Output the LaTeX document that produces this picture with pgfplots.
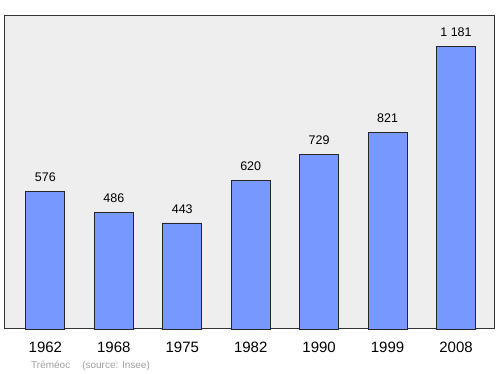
\documentclass[border=0pt]{standalone}
\usepackage{pgfplots}
\pgfplotsset{compat=1.18}
\usepackage{fontspec}
\setmainfont{Liberation Sans}
\definecolor{bg}{HTML}{EEEEEE}
\definecolor{barc}{HTML}{7799FF}
\definecolor{foot}{HTML}{A0A0A0}
\begin{document}
\begin{tikzpicture}[x=1pt,y=1pt]
\begin{axis}[
  name=ax,
  at={(0,0)}, anchor=south west,
  scale only axis,
  width=489pt, height=313pt,
  xmin=-0.59, xmax=6.555,
  ymin=0, ymax=1307,
  axis background/.style={fill=bg},
  axis line style={draw=black!80, line width=1pt},
  xtick=data,
  xticklabels={1962,1968,1975,1982,1990,1999,2008},
  ytick=\empty,
  xtick style={draw=none},
  ticklabel style={font=\fontsize{15}{17}\selectfont},
  xticklabel style={yshift=-9pt},
  /pgf/number format/assume math mode=true,
  clip=false,
]
\addplot[ybar, bar width=39pt, fill=barc, draw=black!85, line width=0.8pt,
  nodes near coords={\pgfplotspointmeta},
  nodes near coords style={font=\fontsize{12.5}{14}\selectfont, black, yshift=6pt},
  point meta=explicit symbolic]
  coordinates {(0,576)[576] (1,486)[486] (2,443)[443] (3,620)[620] (4,729)[729] (5,821)[821] (6,1181)[1 181]};
\end{axis}
\node[anchor=base west, font=\fontsize{10}{12}\selectfont, text=foot, inner sep=0pt] at (26pt,-40pt) {Tréméoc\hspace{12pt}(source: Insee)};
\path[use as bounding box] (-5pt,-45pt) rectangle (495pt,329pt);
\end{tikzpicture}
\end{document}
